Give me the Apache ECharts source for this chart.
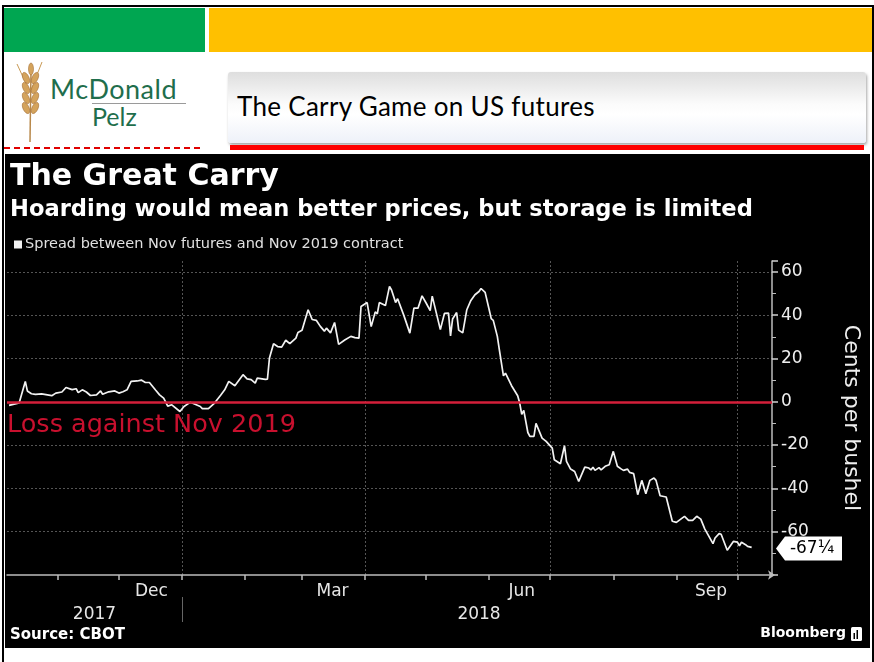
<!DOCTYPE html>
<html><head><meta charset="utf-8">
<script src="https://cdn.jsdelivr.net/npm/echarts@6/dist/echarts.min.js"></script>
<style>
html,body{margin:0;padding:0;background:#fff;}
#page{position:relative;width:874px;height:662px;overflow:hidden;background:#fff;}
#frame{position:absolute;left:2px;top:5px;width:872px;height:680px;border:2px solid #000;box-sizing:border-box;}
#green{position:absolute;left:4px;top:8px;width:201px;height:44px;background:#00a651;}
#yellow{position:absolute;left:209px;top:8px;width:663px;height:44px;background:#ffc000;}
#logoText1{position:absolute;left:50px;top:75px;font-family:Lato,'Open Sans',sans-serif;font-size:27px;line-height:27px;color:#1f6e4c;letter-spacing:0.5px;}
#logoLine{position:absolute;left:92px;top:103px;width:94px;height:1px;background:#9a9a9a;}
#logoText2{position:absolute;left:92px;top:104px;font-family:Lato,'Open Sans',sans-serif;font-size:25px;line-height:25px;color:#1f6e4c;}
#wheat{position:absolute;left:12px;top:60px;}
#titleBox{position:absolute;left:228px;top:72px;width:638px;height:71px;border-radius:3px;
 background:linear-gradient(#dedede 0%,#ececec 22%,#fbfbfb 45%,#ffffff 60%,#eef1f9 100%);
 box-shadow:1px 2px 3px rgba(0,0,0,0.35);}
#titleText{position:absolute;left:9px;top:18px;font-family:Lato,'Open Sans',sans-serif;font-size:26px;color:#000;letter-spacing:0.3px;}
#redBar{position:absolute;left:230px;top:145px;width:634px;height:5px;background:#ff0000;}
#redDash{position:absolute;left:4px;top:147px;width:196px;height:0;border-top:2px dashed #e00000;}
#chart{position:absolute;left:5px;top:154px;width:865px;height:494px;background:#000;}
</style></head>
<body><div id="page">
<div id="frame"></div>
<div id="green"></div><div id="yellow"></div>
<svg id="wheat" width="36" height="82" viewBox="0 0 36 82">
 <path d="M18 82 L19 10" stroke="#b8884a" stroke-width="1.5" fill="none"/>
 <path d="M19 30 L30 2" stroke="#c99a55" stroke-width="1" fill="none"/>
 <path d="M17 30 L5 4" stroke="#c99a55" stroke-width="1" fill="none"/>
 <g fill="#d4a35c" stroke="#a8743a" stroke-width="0.6">
  <ellipse cx="14" cy="18" rx="3" ry="6" transform="rotate(-25 14 18)"/>
  <ellipse cx="23" cy="18" rx="3" ry="6" transform="rotate(25 23 18)"/>
  <ellipse cx="14" cy="28" rx="3" ry="6" transform="rotate(-25 14 28)"/>
  <ellipse cx="23" cy="28" rx="3" ry="6" transform="rotate(25 23 28)"/>
  <ellipse cx="14" cy="38" rx="3" ry="6" transform="rotate(-25 14 38)"/>
  <ellipse cx="23" cy="38" rx="3" ry="6" transform="rotate(25 23 38)"/>
  <ellipse cx="14" cy="48" rx="3" ry="6" transform="rotate(-25 14 48)"/>
  <ellipse cx="23" cy="48" rx="3" ry="6" transform="rotate(25 23 48)"/>
  <ellipse cx="19" cy="9" rx="2.5" ry="6"/>
 </g>
</svg>
<div id="logoText1">McDonald</div>
<div id="logoLine"></div>
<div id="logoText2">Pelz</div>
<div id="titleBox"><div id="titleText">The Carry Game on US futures</div></div>
<div id="redDash"></div>
<div id="redBar"></div>
<div id="chart"></div>
</div>
<script>
// ---------------- data ----------------
const seriesName = 'Spread between Nov futures and Nov 2019 contract';
const dates = [
 '2017-10-08','2017-10-11','2017-10-13','2017-10-16','2017-10-17','2017-10-19','2017-10-21','2017-10-24','2017-10-29','2017-10-31',
 '2017-11-03','2017-11-05','2017-11-08','2017-11-10','2017-11-11','2017-11-13','2017-11-15','2017-11-17','2017-11-20','2017-11-22',
 '2017-11-23','2017-11-26','2017-11-29','2017-12-01','2017-12-03','2017-12-05','2017-12-07','2017-12-10','2017-12-12','2017-12-14',
 '2017-12-16','2017-12-19','2017-12-21','2017-12-23','2017-12-25','2017-12-27','2017-12-31','2018-01-02','2018-01-05','2018-01-06',
 '2018-01-10','2018-01-11','2018-01-14','2018-01-17','2018-01-20','2018-01-22','2018-01-24','2018-01-27','2018-01-31','2018-02-02',
 '2018-02-04','2018-02-06','2018-02-07','2018-02-11','2018-02-12','2018-02-13','2018-02-15','2018-02-17','2018-02-19','2018-02-21',
 '2018-02-23','2018-02-26','2018-02-27','2018-03-01','2018-03-04','2018-03-06','2018-03-08','2018-03-10','2018-03-12','2018-03-13',
 '2018-03-15','2018-03-17','2018-03-19','2018-03-22','2018-03-25','2018-03-27','2018-03-29','2018-03-30','2018-04-02','2018-04-04',
 '2018-04-06','2018-04-07','2018-04-08','2018-04-11','2018-04-13','2018-04-14','2018-04-16','2018-04-17','2018-04-20','2018-04-23',
 '2018-04-25','2018-04-27','2018-04-29','2018-05-01','2018-05-03','2018-05-04','2018-05-08','2018-05-10','2018-05-12','2018-05-13',
 '2018-05-14','2018-05-16','2018-05-17','2018-05-19','2018-05-21','2018-05-23','2018-05-25','2018-05-27','2018-05-28','2018-05-30',
 '2018-06-01','2018-06-02','2018-06-03','2018-06-05','2018-06-06','2018-06-08','2018-06-09','2018-06-12','2018-06-15','2018-06-16',
 '2018-06-17','2018-06-18','2018-06-20','2018-06-21','2018-06-23','2018-06-24','2018-06-27','2018-06-29','2018-07-02','2018-07-03',
 '2018-07-06','2018-07-08','2018-07-09','2018-07-11','2018-07-13','2018-07-15','2018-07-18','2018-07-20','2018-07-21','2018-07-22',
 '2018-07-23','2018-07-25','2018-07-26','2018-07-28','2018-07-30','2018-08-01','2018-08-03','2018-08-05','2018-08-06','2018-08-08',
 '2018-08-09','2018-08-11','2018-08-13','2018-08-15','2018-08-17','2018-08-19','2018-08-21','2018-08-22','2018-08-24','2018-08-27',
 '2018-08-30','2018-09-01','2018-09-05','2018-09-07','2018-09-09','2018-09-11','2018-09-13','2018-09-15','2018-09-19','2018-09-20',
 '2018-09-22','2018-09-23','2018-09-26','2018-09-29','2018-10-01','2018-10-02','2018-10-03','2018-10-05','2018-10-06','2018-10-08'
];
const values = [
 -1.7,-1.0,-0.5,9.4,5.0,3.7,3.4,3.6,2.8,4.0,
 4.5,6.6,5.6,6.0,4.2,5.5,4.5,2.9,3.2,5.0,
 3.5,4.6,5.0,4.0,4.6,5.5,9.4,9.6,10.0,8.9,
 8.9,5.4,3.2,1.7,-2.0,-1.4,-4.5,-2.2,-0.3,-0.6,
 -2.2,-3.2,-3.2,-0.6,3.0,5.5,9.4,7.4,12.5,10.6,
 10.2,8.6,10.9,10.3,10.4,20.2,26.8,25.5,25.2,28.4,
 26.8,29.4,32.0,33.0,42.5,38.0,37.6,34.8,32.6,34.0,
 31.8,36.6,26.5,28.5,30.2,29.6,29.4,44.0,45.8,34.7,
 41.5,40.6,45.8,44.4,53.3,51.6,45.8,47.6,40.0,31.7,
 43.2,43.2,48.9,45.6,42.1,48.8,33.3,40.8,40.9,30.4,
 38.2,41.2,33.1,31.8,42.5,46.8,49.4,50.9,52.3,50.5,
 42.5,38.4,37.6,30.2,24.0,12.0,13.2,7.4,2.8,-0.6,
 -5.8,-4.0,-14.2,-16.0,-16.0,-10.0,-16.8,-18.3,-21.4,-26.8,
 -28.6,-20.3,-27.5,-31.1,-32.2,-36.8,-30.2,-30.6,-31.5,-30.2,
 -31.7,-30.4,-31.5,-29.8,-29.1,-22.9,-29.8,-31.1,-31.7,-31.1,
 -32.6,-33.2,-42.9,-36.3,-42.5,-36.3,-35.2,-36.3,-43.4,-44.0,
 -55.2,-55.7,-52.9,-54.8,-54.8,-52.9,-54.2,-58.8,-65.5,-62.9,
 -60.9,-61.2,-68.6,-64.5,-64.8,-66.5,-64.9,-66.0,-66.8,-67.25
];
const lastValueLabel = '-67\u00BC';
const zeroLineLabel = 'Loss against Nov 2019';
const yTickLabels = [-60,-40,-20,0,20,40,60];
const xMin = '2017-10-07', xMax = '2018-10-18';
const monthTickDates = ['2017-11-01','2017-12-01','2018-01-01','2018-02-01','2018-03-01','2018-04-01','2018-05-01','2018-06-01','2018-07-01','2018-08-01','2018-09-01','2018-10-01'];
const monthLabelDates = ['2017-12-17','2018-03-16','2018-06-17','2018-09-18'];
const monthLabels = ['Dec','Mar','Jun','Sep'];
const yearLabelDates = ['2017-11-19','2018-05-27'];
const yearLabels = ['2017','2018'];
const quarterDates = ['2018-01-01','2018-04-01','2018-07-01','2018-10-01'];
const yearBreakDates = ['2018-01-01'];

// ---------------- chart ----------------
const FONT = "'DejaVu Sans', sans-serif";
const ts = d => echarts.time.parse(d).getTime();
function lookup(list, labels) {
  const t = list.map(ts);
  return function (v) {
    let best = 0, bd = Infinity;
    t.forEach((x, i) => { const d = Math.abs(x - v); if (d < bd) { bd = d; best = i; } });
    return labels[best];
  };
}
const monthFmt = lookup(monthLabelDates, monthLabels);
const yearFmt = lookup(yearLabelDates, yearLabels);
const X0 = ts(xMin), X1 = ts(xMax);

const chart = echarts.init(document.getElementById('chart'), null, {renderer: 'canvas'});
const axisGrey = '#bdbdbd';
const baseX = {type: 'value', min: X0, max: X1, scale: true, position: 'bottom'};
chart.setOption({
  backgroundColor: '#000',
  animation: false,
  textStyle: {fontFamily: FONT},
  title: [
    {text: 'The Great Carry', left: 5, top: 8, padding: 0,
     textStyle: {color: '#fff', fontSize: 30, fontWeight: 'bold', fontFamily: FONT}},
    {text: 'Hoarding would mean better prices, but storage is limited', left: 5, top: 45, padding: 0,
     textStyle: {color: '#fff', fontSize: 22.6, fontWeight: 'bold', fontFamily: FONT}},
    {text: 'Source: CBOT', left: 5, top: 474, padding: 0,
     textStyle: {color: '#fff', fontSize: 15, fontWeight: 'bold', fontFamily: FONT}},
    {text: 'Bloomberg', right: 24, top: 472, padding: 0,
     textStyle: {color: '#fff', fontSize: 14, fontWeight: 'bold', fontFamily: FONT}}
  ],
  legend: {
    data: [{name: seriesName, icon: 'rect'}],
    left: 9, top: 83, padding: 0, itemWidth: 8, itemHeight: 8, itemGap: 0,
    selectedMode: false,
    itemStyle: {color: '#f2f2f2'},
    textStyle: {color: '#e0e0e0', fontSize: 14.5, fontFamily: FONT, padding: [0, 0, 0, -2]}
  },
  grid: {left: 2, right: 94, top: 107, bottom: 73, containLabel: false},
  xAxis: [
    Object.assign({}, baseX, {
      axisLine: {show: true, onZero: false, lineStyle: {color: axisGrey, width: 1.5}, symbol: ['none', 'arrow'], symbolSize: [7, 7], symbolOffset: [0, 3]},
      axisTick: {show: true, customValues: monthTickDates.map(ts), length: 5, lineStyle: {color: axisGrey, width: 1.5}},
      axisLabel: {show: true, customValues: monthLabelDates.map(ts), formatter: monthFmt, color: '#e6e6e6', fontSize: 17, margin: 8, fontFamily: FONT},
      splitLine: {show: false}
    }),
    Object.assign({}, baseX, {
      axisLine: {show: false, onZero: false},
      axisTick: {show: false, customValues: quarterDates.map(ts)},
      axisLabel: {show: true, customValues: yearLabelDates.map(ts), formatter: yearFmt, color: '#e6e6e6', fontSize: 17, margin: 31, fontFamily: FONT},
      splitLine: {show: true, lineStyle: {color: '#555', width: 1, type: [2, 2]}}
    }),
    Object.assign({}, baseX, {
      offset: 22,
      axisLine: {show: false, onZero: false},
      axisTick: {show: true, customValues: yearBreakDates.map(ts), length: 25, lineStyle: {color: '#666', width: 1}},
      axisLabel: {show: false},
      splitLine: {show: false}
    })
  ],
  yAxis: {
    type: 'value', position: 'right', min: -80, max: 65, interval: 20,
    axisLine: {show: true, lineStyle: {color: axisGrey, width: 1.5}},
    axisTick: {show: true, length: 6, lineStyle: {color: '#d0d0d0', width: 1.5}},
    minorTick: {show: true, splitNumber: 2, length: 4, lineStyle: {color: axisGrey, width: 1}},
    axisLabel: {color: '#eeeeee', fontSize: 17, margin: 9, fontFamily: FONT,
      formatter: v => yTickLabels.indexOf(v) >= 0 ? String(v) : ''},
    splitLine: {show: true, showMinLine: false, showMaxLine: false, lineStyle: {color: '#555', width: 1, type: [2, 2]}},
    name: 'Cents per bushel', nameLocation: 'middle', nameRotate: -90, nameGap: 68,
    nameTextStyle: {color: '#eeeeee', fontSize: 22, fontFamily: FONT}
  },
  series: [{
    name: seriesName, type: 'line', xAxisIndex: 0, yAxisIndex: 0,
    data: dates.map((d, i) => [ts(d), values[i]]),
    symbol: 'none', showSymbol: false, clip: false,
    itemStyle: {color: '#f2f2f2'},
    lineStyle: {color: '#f2f2f2', width: 1.7},
    markLine: {
      silent: true, symbol: 'none', animation: false,
      data: [{yAxis: 0}],
      lineStyle: {color: '#d41f3a', width: 2.5, type: 'solid'},
      label: {show: true, position: 'insideStartBottom', formatter: zeroLineLabel,
              color: '#c8102e', fontSize: 25.5, fontFamily: FONT, distance: [0, 11]}
    },
    markPoint: {
      silent: true, animation: false,
      data: [{coord: [X1, values[values.length - 1]]}],
      symbol: 'path://M0,12L9,0L66,0L66,24L9,24Z',
      symbolSize: [66, 24], symbolOffset: [37, 1],
      itemStyle: {color: '#ffffff'},
      label: {show: true, position: 'inside', formatter: lastValueLabel, color: '#000', fontSize: 17, fontFamily: FONT, offset: [3, 0]}
    }
  }],
  graphic: [
    {type: 'rect', right: 8, top: 473, shape: {width: 11, height: 14, r: 1.5}, style: {fill: '#fff'}},
    {type: 'rect', right: 15, top: 479, shape: {width: 1.5, height: 6}, style: {fill: '#000'}},
    {type: 'rect', right: 12, top: 476, shape: {width: 1.5, height: 9}, style: {fill: '#000'}}
  ]
});
</script>
</body></html>
